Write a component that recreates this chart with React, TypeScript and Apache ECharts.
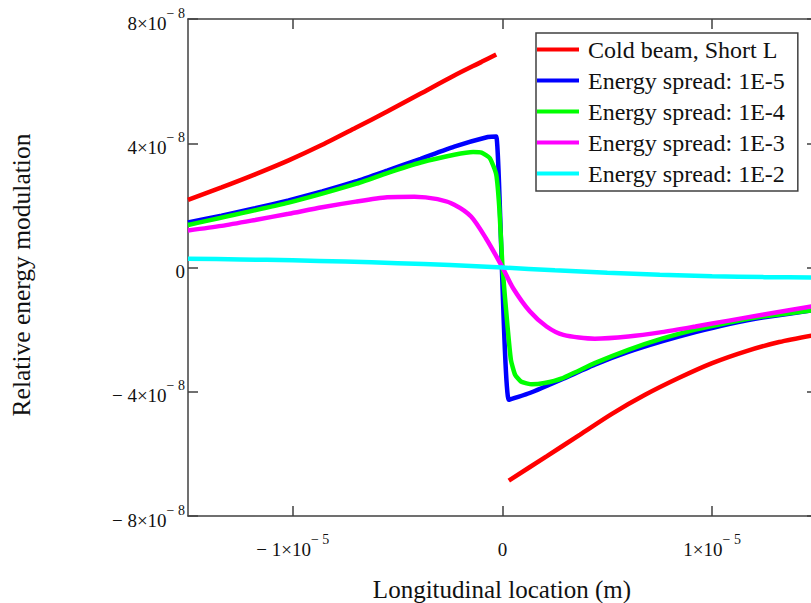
import React, { useEffect, useRef } from 'react';
import * as echarts from 'echarts';

// x in units of 1e-5 m, y in units of 1e-8
const seriesNames = [
  'Cold beam, Short L',
  'Energy spread: 1E-5',
  'Energy spread: 1E-4',
  'Energy spread: 1E-3',
  'Energy spread: 1E-2',
];

const redLeftX = [-1.5, -1.34, -1.18, -1.02, -0.86, -0.70, -0.55, -0.39, -0.23, -0.10, -0.03];
const redLeftY = [2.18, 2.58, 3.0, 3.45, 3.95, 4.5, 5.02, 5.6, 6.18, 6.62, 6.86];
const redRightX = [0.03, 0.21, 0.37, 0.52, 0.68, 0.84, 1.0, 1.16, 1.32, 1.5];
const redRightY = [-6.86, -6.08, -5.38, -4.72, -4.10, -3.56, -3.08, -2.70, -2.40, -2.16];

const blueX = [-1.5, -1.34, -1.18, -1.02, -0.86, -0.70, -0.55, -0.39, -0.23, -0.07, -0.03, 0.03, 0.13, 0.29, 0.44, 0.60, 0.76, 0.92, 1.08, 1.24, 1.5];
const blueY = [1.45, 1.67, 1.91, 2.16, 2.45, 2.77, 3.12, 3.50, 3.89, 4.20, 4.22, -4.26, -4.04, -3.58, -3.13, -2.72, -2.38, -2.08, -1.82, -1.61, -1.36];

const greenX = [-1.5, -1.02, -0.70, -0.55, -0.39, -0.23, -0.14, -0.10, -0.06, -0.03, -0.015, 0, 0.024, 0.04, 0.06, 0.09, 0.14, 0.20, 0.28, 0.44, 0.60, 0.76, 0.92, 1.08, 1.24, 1.5];
const greenY = [1.37, 2.09, 2.69, 3.04, 3.38, 3.63, 3.72, 3.70, 3.52, 3.00, 1.90, 0, -1.90, -2.97, -3.45, -3.68, -3.76, -3.72, -3.58, -3.08, -2.65, -2.29, -2.00, -1.77, -1.58, -1.36];

const magentaX = [-1.5, -1.34, -1.18, -1.02, -0.86, -0.70, -0.55, -0.42, -0.31, -0.23, -0.15, -0.08, 0, 0.05, 0.13, 0.21, 0.29, 0.44, 0.60, 0.76, 0.92, 1.08, 1.24, 1.5];
const magentaY = [1.19, 1.34, 1.53, 1.73, 1.94, 2.12, 2.26, 2.28, 2.20, 2.02, 1.64, 0.95, 0, -0.66, -1.41, -1.90, -2.17, -2.29, -2.22, -2.08, -1.90, -1.71, -1.52, -1.22];

const cyanX = [-1.5, -1.25, -1.0, -0.75, -0.5, -0.25, 0, 0.25, 0.5, 0.75, 1.0, 1.25, 1.5];
const cyanY = [0.28, 0.26, 0.23, 0.19, 0.14, 0.08, 0, -0.09, -0.17, -0.23, -0.28, -0.31, -0.32];

const xTickValues = [-1, 0, 1];
const xExponent = '− 5';
const yExponent = '− 8';

const colors = ['#ff0000', '#0000ff', '#00ff00', '#ff00ff', '#00ffff'];
const smoothness = [0.25, 0.25, 0.15, 0.15, 0.25, 0.25];

const FONT = '"Liberation Serif", "Times New Roman", serif';

const pairs = (xs: number[], ys: number[]) => xs.map((x, i) => [x, ys[i]]);

const mantissa = (v: number) => (v < 0 ? '− ' + Math.abs(v) : String(v));

const richStyles = {
  m: { fontFamily: FONT, fontSize: 19, lineHeight: 26, padding: [8, 0, 0, 0], color: '#111' },
  s: { fontFamily: FONT, fontSize: 14, lineHeight: 14, verticalAlign: 'top', color: '#111' },
};

export default function App() {
  const ref = useRef<HTMLDivElement>(null);
  useEffect(() => {
    if (!ref.current) return;
    const chart = echarts.init(ref.current, undefined, { renderer: 'svg' });
    const axisLine = { show: true, onZero: false, lineStyle: { color: '#404040', width: 1.5 } };
    const tick = { show: true, inside: true, length: 10, lineStyle: { color: '#404040', width: 1.5 } };
    const mkLine = (name: string, data: number[][], color: string, smooth: number) => ({
      name,
      type: 'line',
      data,
      showSymbol: false,
      symbol: 'none',
      smooth,
      lineStyle: { width: 4.5, color },
      itemStyle: { color },
      emphasis: { disabled: true },
    });
    const labelBase = { fontFamily: FONT, fontSize: 19, color: '#111', rich: richStyles };
    chart.setOption({
      animation: false,
      grid: { left: 188, top: 19, width: 629, height: 497, containLabel: false, outerBoundsMode: 'none' },
      xAxis: [
        {
          type: 'value', min: -1.5, max: 1.5, position: 'bottom',
          axisLine, axisTick: { ...tick, customValues: xTickValues }, splitLine: { show: false },
          axisLabel: {
            ...labelBase,
            customValues: xTickValues, margin: 16,
            formatter: (v: number) => (v === 0 ? '{m|0}' : `{m|${mantissa(v)}×10}{s|${xExponent}}`),
          },
        },
        {
          type: 'value', min: -1.5, max: 1.5, position: 'top',
          axisLine, axisTick: { ...tick, customValues: xTickValues }, splitLine: { show: false },
          axisLabel: { show: false },
        },
      ],
      yAxis: [
        {
          type: 'value', min: -8, max: 8, interval: 4, position: 'left',
          axisLine, axisTick: tick, splitLine: { show: false },
          axisLabel: {
            ...labelBase,
            margin: 3,
            formatter: (v: number) => (v === 0 ? '{m|0}' : `{m|${mantissa(v)}×10}{s|${yExponent}}`),
          },
        },
        {
          type: 'value', min: -8, max: 8, interval: 4, position: 'right',
          axisLine, axisTick: tick, splitLine: { show: false }, axisLabel: { show: false },
        },
      ],
      legend: {
        orient: 'vertical', left: 536, top: 33, padding: [4, 13, 5, 1],
        itemGap: 6, itemWidth: 42, itemHeight: 4, icon: 'rect',
        backgroundColor: '#ffffff', borderColor: '#404040', borderWidth: 1.5,
        textStyle: { fontFamily: FONT, fontSize: 24, lineHeight: 25, color: '#111', padding: [0, 0, 0, 4] },
        data: seriesNames,
        selectedMode: false,
      },
      graphic: [
        {
          type: 'text', x: 21, y: 275, rotation: Math.PI / 2,
          style: { text: 'Relative energy modulation', font: `25.5px ${FONT}`, fill: '#111', align: 'center', verticalAlign: 'middle' },
        },
        {
          type: 'text', x: 502, y: 589,
          style: { text: 'Longitudinal location (m)', font: `25px ${FONT}`, fill: '#111', align: 'center', verticalAlign: 'middle' },
        },
      ],
      series: [
        mkLine(seriesNames[0], pairs(redLeftX, redLeftY), colors[0], smoothness[0]),
        mkLine(seriesNames[0], pairs(redRightX, redRightY), colors[0], smoothness[1]),
        mkLine(seriesNames[1], pairs(blueX, blueY), colors[1], smoothness[2]),
        mkLine(seriesNames[2], pairs(greenX, greenY), colors[2], smoothness[3]),
        mkLine(seriesNames[3], pairs(magentaX, magentaY), colors[3], smoothness[4]),
        mkLine(seriesNames[4], pairs(cyanX, cyanY), colors[4], smoothness[5]),
      ],
    });
    return () => chart.dispose();
  }, []);
  return (
    <div
      ref={ref}
      style={{ position: 'absolute', left: 0, top: 0, width: 811, height: 603, background: '#fff' }}
    />
  );
}
